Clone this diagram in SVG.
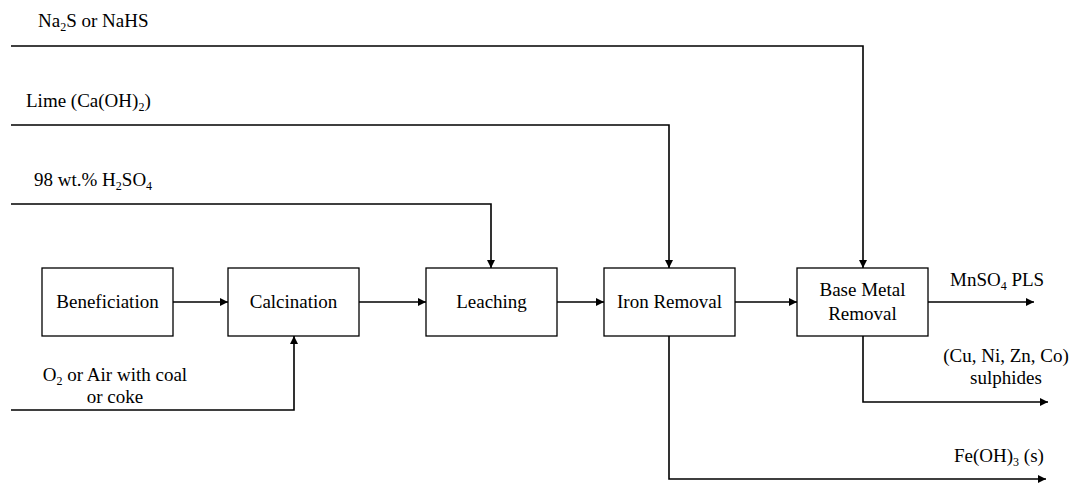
<svg xmlns="http://www.w3.org/2000/svg" width="1075" height="484" viewBox="0 0 1075 484">
<style>
.box{fill:#fff;stroke:#000;stroke-width:1.3}
.c{fill:none;stroke:#000;stroke-width:1.6}
</style>
<defs>
<marker id="ah" viewBox="0 0 10 10" refX="10" refY="5" markerWidth="8" markerHeight="8" markerUnits="userSpaceOnUse" orient="auto">
<path d="M0,0 L10,5 L0,10 z" fill="#000"/>
</marker>
</defs>
<rect width="1075" height="484" fill="#fff"/>
<g id="connectors">
<path class="c" d="M11,46 H863 V268" marker-end="url(#ah)"/>
<path class="c" d="M11,125 H669 V268" marker-end="url(#ah)"/>
<path class="c" d="M11,204 H491 V268" marker-end="url(#ah)"/>
<path class="c" d="M11,410 H294 V336" marker-end="url(#ah)"/>
<path class="c" d="M173,302 H228" marker-end="url(#ah)"/>
<path class="c" d="M359,302 H426" marker-end="url(#ah)"/>
<path class="c" d="M557,302 H604" marker-end="url(#ah)"/>
<path class="c" d="M735,302 H797" marker-end="url(#ah)"/>
<path class="c" d="M928,302 H1034" marker-end="url(#ah)"/>
<path class="c" d="M863,336 V402 H1048" marker-end="url(#ah)"/>
<path class="c" d="M669,336 V479 H1046" marker-end="url(#ah)"/>
</g>
<g id="beneficiation"><rect class="box" x="42" y="268" width="131" height="68"/><text font-family="Liberation Serif" font-size="19" text-anchor="middle" x="107.5" y="308">Beneficiation</text></g>
<g id="calcination"><rect class="box" x="228" y="268" width="131" height="68"/><text font-family="Liberation Serif" font-size="19" text-anchor="middle" x="293.5" y="308">Calcination</text></g>
<g id="leaching"><rect class="box" x="426" y="268" width="131" height="68"/><text font-family="Liberation Serif" font-size="19" text-anchor="middle" x="491.5" y="308">Leaching</text></g>
<g id="iron-removal"><rect class="box" x="604" y="268" width="131" height="68"/><text font-family="Liberation Serif" font-size="19" text-anchor="middle" x="669.5" y="308">Iron Removal</text></g>
<g id="base-metal-removal"><rect class="box" x="797" y="268" width="131" height="68"/><text font-family="Liberation Serif" font-size="19" text-anchor="middle" x="862.5" y="296">Base Metal</text><text font-family="Liberation Serif" font-size="19" text-anchor="middle" x="862.5" y="320">Removal</text></g>
<g id="labels">
<text font-family="Liberation Serif" font-size="19" x="38" y="27">Na<tspan font-size="12" dy="4">2</tspan><tspan dy="-4">S or NaHS</tspan></text>
<text font-family="Liberation Serif" font-size="19" x="26" y="107">Lime (Ca(OH)<tspan font-size="12" dy="4">2</tspan><tspan dy="-4">)</tspan></text>
<text font-family="Liberation Serif" font-size="19" x="34" y="186">98 wt.% H<tspan font-size="12" dy="4">2</tspan><tspan dy="-4">SO</tspan><tspan font-size="12" dy="4">4</tspan></text>
<text font-family="Liberation Serif" font-size="19" text-anchor="middle" x="115" y="381">O<tspan font-size="12" dy="4">2</tspan><tspan dy="-4"> or Air with coal</tspan></text>
<text font-family="Liberation Serif" font-size="19" text-anchor="middle" x="115" y="403">or coke</text>
<text font-family="Liberation Serif" font-size="19" x="950" y="286">MnSO<tspan font-size="12" dy="4">4</tspan><tspan dy="-4"> PLS</tspan></text>
<text font-family="Liberation Serif" font-size="19" text-anchor="middle" x="1006" y="362">(Cu, Ni, Zn, Co)</text>
<text font-family="Liberation Serif" font-size="19" text-anchor="middle" x="1006" y="384">sulphides</text>
<text font-family="Liberation Serif" font-size="19" x="954" y="462">Fe(OH)<tspan font-size="12" dy="4">3</tspan><tspan dy="-4"> (s)</tspan></text>
</g>
</svg>
